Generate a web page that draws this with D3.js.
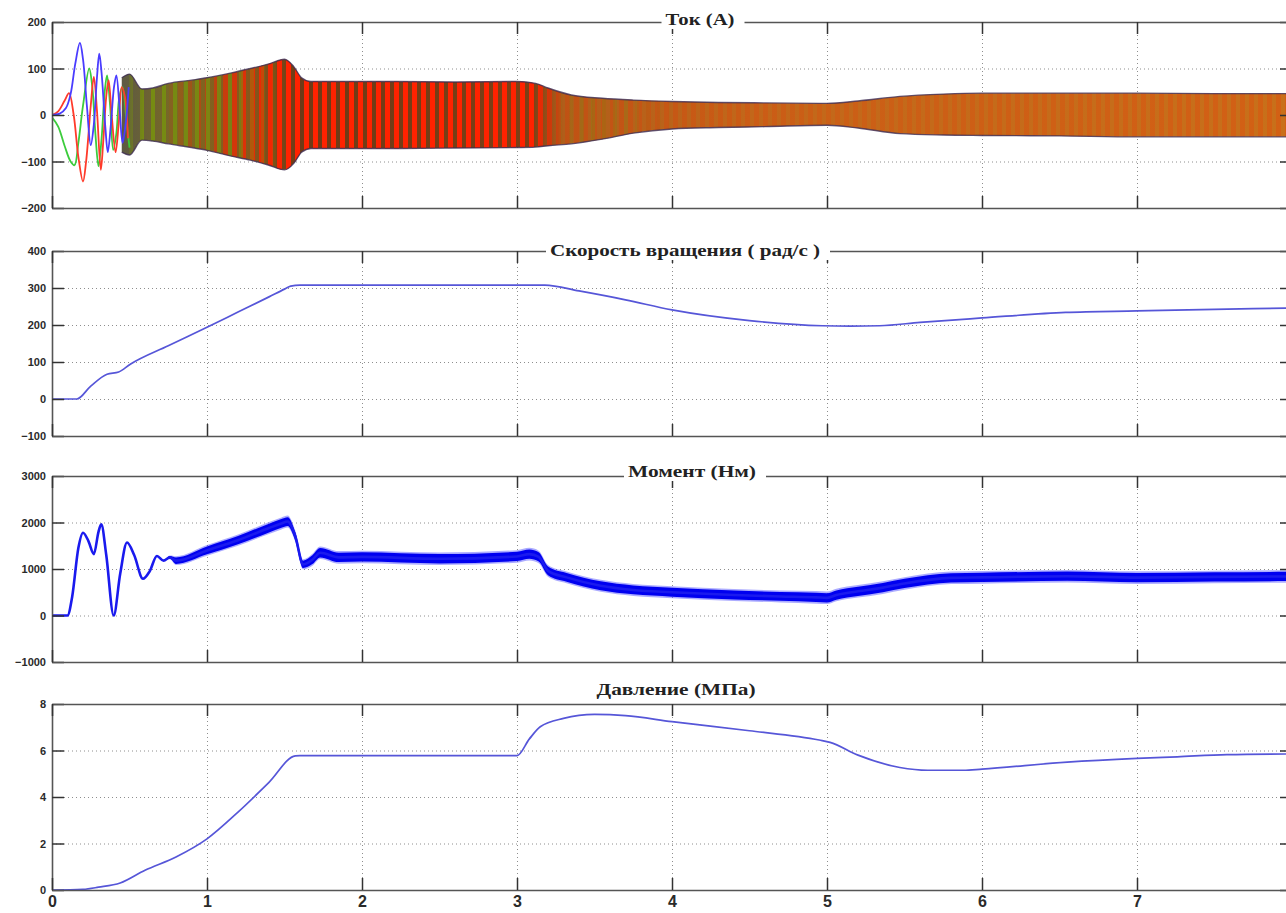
<!DOCTYPE html>
<html>
<head>
<meta charset="utf-8">
<script src="https://d3js.org/d3.v7.min.js"></script>
<style>
  html, body { margin: 0; padding: 0; background: #fff; overflow: hidden; }
  svg { display: block; }
  .tick text { font-family: "Liberation Sans", Arial, sans-serif; font-weight: bold; fill: #2a2a2a; }
</style>
</head>
<body>
<svg id="chart"></svg>
<script>
// ---- values ----
const timeTicks = [0, 1, 2, 3, 4, 5, 6, 7, 8]
const titles = ['Ток  (А)', 'Скорость вращения  ( рад/с )', 'Момент  (Нм)', 'Давление  (МПа)']

// panel 1: phase currents (A)
const currentTicks = [-200, -100, 0, 100, 200]
const phaseA = [[0,0],[0.05,3],[0.09,15],[0.12,45],[0.15,110],[0.18,155],[0.2,120],[0.225,20],[0.25,-65],[0.27,-20],[0.29,80],[0.305,132],[0.32,90],[0.345,-30],[0.36,-80],[0.38,-20],[0.4,60],[0.415,85],[0.435,20],[0.455,-60],[0.475,-20],[0.495,60]]
const phaseB = [[0,0],[0.04,8],[0.08,30],[0.11,47],[0.14,0],[0.17,-90],[0.2,-143],[0.22,-100],[0.25,20],[0.27,82],[0.29,10],[0.315,-118],[0.33,-60],[0.35,40],[0.365,75],[0.385,0],[0.41,-80],[0.43,-20],[0.45,60],[0.47,40],[0.49,-50]]
const phaseC = [[0,-5],[0.04,-25],[0.08,-65],[0.12,-100],[0.145,-108],[0.17,-60],[0.2,20],[0.24,100],[0.26,60],[0.28,-40],[0.3,-110],[0.32,-50],[0.34,50],[0.355,85],[0.375,20],[0.395,-75],[0.415,-40],[0.435,40],[0.455,60],[0.48,-10],[0.5,-70]]
// envelope of the fast oscillation after start-up
const currentEnvT  = [0.45, 0.5, 0.58, 0.65, 0.75, 0.9, 1.0, 1.15, 1.28, 1.4, 1.5, 1.56, 1.61, 1.67, 1.8, 2.2, 2.6, 3.0, 3.12, 3.2, 3.35, 3.55, 3.75, 4.0, 4.3, 4.6, 5.0, 5.2, 5.47, 5.75, 6.0, 6.5, 7.0, 7.5, 8.0]
const currentUpper = [80, 88, 56, 58, 68, 75, 80, 90, 100, 110, 120, 104, 80, 72, 72, 72, 71, 72, 68, 58, 43, 36, 32, 29, 27, 26, 25, 30, 40, 45, 47, 47, 47, 46, 46]
const currentLower = [-80, -86, -54, -56, -62, -70, -76, -88, -97, -108, -118, -104, -80, -72, -72, -72, -71, -70, -69, -66, -62, -52, -39, -30, -27, -25, -22, -28, -40, -43, -44, -45, -47, -47, -47]

// panel 2: rotation speed (rad/s)
const speedTicks = [-100, 0, 100, 200, 300, 400]
const speedT = [0, 0.16, 0.25, 0.355, 0.43, 0.505, 0.75, 1.0, 1.2, 1.4, 1.5, 1.54, 1.6, 3.18, 3.4, 3.7, 4.0, 4.5, 4.97, 5.15, 5.34, 5.6, 6.0, 6.54, 7.0, 7.5, 8.0]
const speed  = [0, 0, 35, 67, 73, 94, 144, 194, 235, 276, 297, 305, 308, 308, 292, 268, 241, 212, 198, 197, 198, 207, 219, 234, 238, 242, 246]

// panel 3: torque (Nm), centre of the noisy band and its half width
const torqueTicks = [-1000, 0, 1000, 2000, 3000]
const torqueT      = [0, 0.1, 0.13, 0.17, 0.2, 0.235, 0.27, 0.3, 0.318, 0.35, 0.398, 0.44, 0.484, 0.53, 0.587, 0.63, 0.677, 0.72, 0.76, 0.8, 1.0, 1.2, 1.4, 1.48, 1.52, 1.57, 1.62, 1.68, 1.73, 1.85, 2.0, 2.5, 3.0, 3.08, 3.14, 3.2, 3.32, 3.54, 3.75, 4.0, 4.4, 4.7, 4.93, 5.0, 5.06, 5.2, 5.36, 5.5, 5.8, 6.0, 6.55, 7.0, 7.5, 8.0]
const torqueMid    = [0, 0, 400, 1450, 1780, 1600, 1320, 1800, 1960, 1300, 0, 900, 1570, 1300, 790, 950, 1280, 1180, 1250, 1180, 1400, 1620, 1880, 1980, 2020, 1700, 1100, 1200, 1350, 1250, 1260, 1220, 1270, 1320, 1260, 960, 820, 640, 550, 500, 440, 410, 390, 380, 440, 520, 600, 690, 810, 820, 845, 815, 830, 840]
const torqueSpread = [0, 0, 0, 0, 0, 0, 0, 0, 0, 0, 0, 0, 0, 0, 0, 0, 0, 0, 30, 70, 85, 90, 95, 95, 95, 90, 80, 95, 100, 100, 100, 100, 100, 100, 100, 95, 95, 95, 95, 95, 95, 95, 100, 100, 100, 100, 100, 100, 100, 100, 100, 100, 100, 100]

// panel 4: pressure (MPa)
const pressureTicks = [0, 2, 4, 6, 8]
const pressureT = [0, 0.2, 0.3, 0.44, 0.6, 0.8, 1.0, 1.2, 1.4, 1.57, 1.6, 3.0, 3.08, 3.15, 3.3, 3.5, 3.7, 4.0, 4.5, 4.95, 5.02, 5.2, 5.47, 5.65, 5.88, 6.0, 6.55, 7.0, 7.26, 7.58, 8.0]
const pressure  = [0, 0.03, 0.12, 0.3, 0.85, 1.42, 2.2, 3.35, 4.63, 5.77, 5.78, 5.78, 6.5, 7.02, 7.38, 7.55, 7.5, 7.24, 6.85, 6.45, 6.35, 5.8, 5.27, 5.15, 5.15, 5.2, 5.5, 5.66, 5.73, 5.82, 5.85]

// ---- layout ----
const W = 1286, H = 913
const left = 52, right = 1292          // x = 8 falls just outside the picture
const boxes = [[22, 208], [251, 436], [476, 662], [704, 890]]
const titleCx = [700, 685, 692, 676]
const titleCy = [20, 251, 472, 690]
const titleW = [69, 270, 128, 159]
const lineBlue = '#5656d8'

const svg = d3.select('#chart').attr('width', W).attr('height', H)
svg.append('rect').attr('width', W).attr('height', H).attr('fill', '#fff')
const defs = svg.append('defs')

const x = d3.scaleLinear().domain([0, 8]).range([left, right])
// the "8" label would sit past the cropped right edge, like in the original
const timeLabel = d => (x(d) + 6 < W ? d3.format('d')(d) : '')

function makePanel(i, domain, ticks, showTime) {
  const [top, bottom] = boxes[i]
  const y = d3.scaleLinear().domain(domain).range([bottom, top])
  const g = svg.append('g')

  const grid = g.append('g')
  grid.append('g').attr('transform', `translate(0,${bottom})`)
    .call(d3.axisBottom(x).tickValues(timeTicks).tickSize(-(bottom - top)).tickFormat(''))
  grid.append('g').attr('transform', `translate(${left},0)`)
    .call(d3.axisLeft(y).tickValues(ticks).tickSize(-(right - left)).tickFormat(''))
  grid.selectAll('.domain').remove()
  grid.selectAll('line').attr('stroke', '#8e8e8e').attr('stroke-width', 1).attr('stroke-dasharray', '1,3')

  defs.append('clipPath').attr('id', 'clip' + i)
    .append('rect').attr('x', left).attr('y', top).attr('width', right - left).attr('height', bottom - top)
  const plot = g.append('g').attr('clip-path', `url(#clip${i})`)

  const axes = g.append('g')
  axes.append('g').attr('transform', `translate(${left},0)`)
    .call(d3.axisLeft(y).tickValues(ticks).tickSize(-12).tickSizeOuter(0).tickPadding(6).tickFormat(d3.format('d')))
    .selectAll('text').style('font-size', '11px')
  axes.append('g').attr('transform', `translate(${right},0)`)
    .call(d3.axisRight(y).tickValues(ticks).tickSize(-12).tickSizeOuter(0).tickFormat(''))
  axes.append('g').attr('transform', `translate(0,${top})`)
    .call(d3.axisTop(x).tickValues(timeTicks).tickSize(-12).tickSizeOuter(0).tickFormat(''))
  const bx = axes.append('g').attr('transform', `translate(0,${bottom})`)
    .call(d3.axisBottom(x).tickValues(timeTicks).tickSize(-12).tickSizeOuter(0).tickPadding(6)
      .tickFormat(showTime ? timeLabel : ''))
  bx.selectAll('text').style('font-size', '16px')
  axes.selectAll('.domain').attr('stroke', '#555').attr('stroke-width', 1.6)
  axes.selectAll('.tick line').attr('stroke', '#333').attr('stroke-width', 1.5)

  // title sits on the top border with a white patch behind it
  const tw = titleW[i]
  g.append('rect').attr('x', titleCx[i] - tw / 2 - 4).attr('y', titleCy[i] - 9)
    .attr('width', tw + 14).attr('height', 18).attr('fill', '#fff')
  g.append('text').attr('x', titleCx[i] - tw / 2).attr('y', titleCy[i] + 5)
    .attr('textLength', tw).attr('lengthAdjust', 'spacingAndGlyphs')
    .style('font-family', '"Liberation Serif", "Times New Roman", serif')
    .style('font-weight', 'bold').style('font-size', '16px').attr('fill', '#222')
    .text(titles[i])

  return { y, plot, top, bottom }
}

function gradient(id, stops) {
  const gr = defs.append('linearGradient').attr('id', id)
    .attr('gradientUnits', 'userSpaceOnUse').attr('x1', left).attr('x2', right).attr('y1', 0).attr('y2', 0)
  stops.forEach(([t, c]) => gr.append('stop').attr('offset', (x(t) - left) / (right - left)).attr('stop-color', c))
}

function stripes(id, period, width, color) {
  const p = defs.append('pattern').attr('id', id).attr('patternUnits', 'userSpaceOnUse')
    .attr('x', left).attr('width', period).attr('height', 20)
  p.append('rect').attr('width', width).attr('height', 20).attr('fill', color)
}

function mask(id, stops, top, bottom) {
  gradient(id + 'G', stops)
  defs.append('mask').attr('id', id).append('rect')
    .attr('x', left).attr('y', top).attr('width', right - left).attr('height', bottom - top)
    .attr('fill', `url(#${id}G)`)
}

// ---- panel 1: current ----
const p1 = makePanel(0, [-200, 200], currentTicks, false)
const env = currentEnvT.map((t, k) => [t, currentUpper[k], currentLower[k]])
const envArea = d3.area().x(d => x(d[0])).y0(d => p1.y(d[2])).y1(d => p1.y(d[1])).curve(d3.curveMonotoneX)

gradient('curBase', [[0.45, '#5d5a44'], [0.8, '#7c6a22'], [1.3, '#86561c'], [1.6, '#6e3a16'], [3.1, '#7c4016'], [3.3, '#b05e1a'], [4.5, '#c2671a'], [8, '#c8701a']])
stripes('redStripes', 9, 5, '#ff2200')
stripes('oliveStripes', 11, 4, '#768c12')
mask('redMask', [[0.7, '#000'], [1.2, '#aaa'], [1.5, '#fff'], [3.1, '#fff'], [3.3, '#333'], [5, '#222'], [8, '#333']], p1.top, p1.bottom)
mask('oliveMask', [[0.45, '#000'], [0.6, '#fff'], [1.1, '#ddd'], [1.5, '#000'], [3.2, '#000'], [3.5, '#555'], [4, '#000']], p1.top, p1.bottom)

p1.plot.append('path').datum(env).attr('d', envArea).attr('fill', 'url(#curBase)')
p1.plot.append('path').datum(env).attr('d', envArea).attr('fill', 'url(#redStripes)').attr('mask', 'url(#redMask)')
p1.plot.append('path').datum(env).attr('d', envArea).attr('fill', 'url(#oliveStripes)').attr('mask', 'url(#oliveMask)')
const edge = d3.line().x(d => x(d[0])).curve(d3.curveMonotoneX)
p1.plot.append('path').datum(env).attr('d', edge.y(d => p1.y(d[1])))
  .attr('fill', 'none').attr('stroke', '#3d2c52').attr('stroke-width', 1.4).attr('opacity', 0.8)
p1.plot.append('path').datum(env).attr('d', edge.y(d => p1.y(d[2])))
  .attr('fill', 'none').attr('stroke', '#3d2c52').attr('stroke-width', 1.4).attr('opacity', 0.8)

const phaseLine = d3.line().x(d => x(d[0])).y(d => p1.y(d[1])).curve(d3.curveCatmullRom)
;[[phaseC, '#3ccc3c'], [phaseB, '#ff3a2a'], [phaseA, '#4a3cff']].forEach(([data, color]) => {
  p1.plot.append('path').datum(data).attr('d', phaseLine)
    .attr('fill', 'none').attr('stroke', color).attr('stroke-width', 1.8)
})

// ---- panel 2: speed ----
const p2 = makePanel(1, [-100, 400], speedTicks, false)
p2.plot.append('path').datum(speedT.map((t, k) => [t, speed[k]]))
  .attr('d', d3.line().x(d => x(d[0])).y(d => p2.y(d[1])).curve(d3.curveMonotoneX))
  .attr('fill', 'none').attr('stroke', lineBlue).attr('stroke-width', 1.7)

// ---- panel 3: torque ----
const p3 = makePanel(2, [-1000, 3000], torqueTicks, false)
const tq = torqueT.map((t, k) => [t, torqueMid[k], torqueSpread[k]])
const tqArea = s => d3.area().x(d => x(d[0]))
  .y0(d => p3.y(d[1] - d[2] * s)).y1(d => p3.y(d[1] + d[2] * s)).curve(d3.curveMonotoneX)
p3.plot.append('path').datum(tq).attr('d', tqArea(1.35)).attr('fill', '#4646ff').attr('opacity', 0.45)
p3.plot.append('path').datum(tq).attr('d', tqArea(1)).attr('fill', '#0000f0')
p3.plot.append('path').datum(tq)
  .attr('d', d3.line().x(d => x(d[0])).y(d => p3.y(d[1])).curve(d3.curveMonotoneX))
  .attr('fill', 'none').attr('stroke', '#1a1aee').attr('stroke-width', 2.6)

// ---- panel 4: pressure ----
const p4 = makePanel(3, [0, 8], pressureTicks, true)
p4.plot.append('path').datum(pressureT.map((t, k) => [t, pressure[k]]))
  .attr('d', d3.line().x(d => x(d[0])).y(d => p4.y(d[1])).curve(d3.curveMonotoneX))
  .attr('fill', 'none').attr('stroke', lineBlue).attr('stroke-width', 1.7)
</script>
</body>
</html>
